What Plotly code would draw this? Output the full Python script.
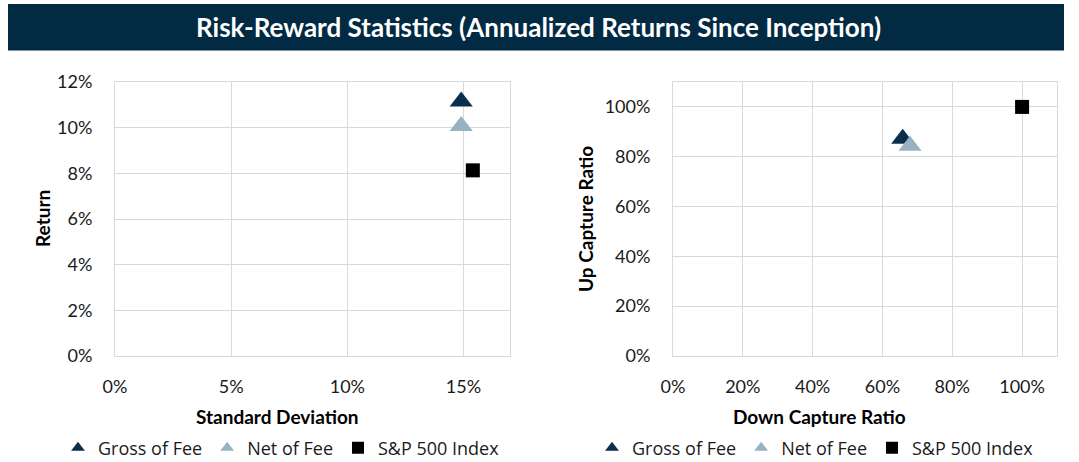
import plotly.graph_objects as go

# ---- data ----
series_names = ["Gross of Fee", "Net of Fee", "S&P 500 Index"]
series_colors = ["#0b2f4b", "#97b3c3", "#000000"]
series_symbols = ["triangle-up", "triangle-up", "square"]
series_sizes = [20, 20, 14]

std_dev = [0.149, 0.149, 0.154]          # Standard Deviation
annual_return = [0.1115, 0.1007, 0.0813]  # Return

down_capture = [0.658, 0.679, 1.00]       # Down Capture Ratio
up_capture = [0.872, 0.844, 1.00]         # Up Capture Ratio

W, H = 1079, 462
TICK_FONT = dict(family="Lato", size=18, color="#1a1a1a")
TITLE_FONT = dict(family="Lato", size=19, color="#000000", weight="bold")
GRID = "#d9d9d9"

fig = go.Figure()

for i, name in enumerate(series_names):
    fig.add_trace(go.Scatter(
        x=[std_dev[i]], y=[annual_return[i]], mode="markers", name=name,
        marker=dict(symbol=series_symbols[i], size=series_sizes[i], color=series_colors[i], line=dict(width=0)),
        xaxis="x", yaxis="y", legend="legend", cliponaxis=False,
    ))
for i, name in enumerate(series_names):
    fig.add_trace(go.Scatter(
        x=[down_capture[i]], y=[up_capture[i]], mode="markers", name=name,
        marker=dict(symbol=series_symbols[i], size=series_sizes[i], color=series_colors[i], line=dict(width=0)),
        xaxis="x2", yaxis="y2", legend="legend2", cliponaxis=False,
    ))

def px_x(p):
    return p / W

def px_y(p):
    return 1 - p / H

axis_common = dict(showgrid=True, gridcolor=GRID, gridwidth=1, showline=True, linecolor=GRID,
                   linewidth=1, mirror=True, zeroline=False, ticks="", tickfont=TICK_FONT,
                   fixedrange=True, automargin=False)

legend_common = dict(orientation="h", yanchor="middle", xanchor="left", y=px_y(448),
                     font=dict(family="Open Sans", size=18, color="#1a1a1a"),
                     itemsizing="constant", bgcolor="rgba(0,0,0,0)", itemclick=False)

fig.update_layout(
    width=W, height=H,
    margin=dict(l=0, r=0, t=0, b=0, autoexpand=False),
    paper_bgcolor="white", plot_bgcolor="white",
    xaxis=dict(domain=[px_x(115), px_x(510)], range=[0, 0.17], dtick=0.05, tick0=0,
               tickformat=".0%", anchor="y", ticklabelstandoff=14, **axis_common),
    yaxis=dict(domain=[px_y(356), px_y(82)], range=[0, 0.12], dtick=0.02, tick0=0,
               tickformat=".0%", anchor="x", ticklabelstandoff=18, **axis_common),
    xaxis2=dict(domain=[px_x(673), px_x(1057)], range=[0, 1.1], dtick=0.2, tick0=0,
                tickformat=".0%", anchor="y2", ticklabelstandoff=14, **axis_common),
    yaxis2=dict(domain=[px_y(356), px_y(82)], range=[0, 1.1], dtick=0.2, tick0=0,
                tickformat=".0%", anchor="x2", ticklabelstandoff=18, **axis_common),
    legend=dict(x=px_x(58), **legend_common),
    legend2=dict(x=px_x(592), **legend_common),
    shapes=[dict(type="rect", xref="paper", yref="paper", x0=px_x(8), x1=px_x(1064),
                 y0=px_y(50.5), y1=px_y(4), fillcolor="#022a43", line=dict(width=0), layer="below")],
    annotations=[
        dict(text="Risk-Reward Statistics (Annualized Returns Since Inception)", xref="paper", yref="paper",
             x=px_x(538), y=px_y(27), showarrow=False, xanchor="center", yanchor="middle",
             font=dict(family="Lato", size=26, color="#ffffff", weight="bold")),
        dict(text="Return", xref="paper", yref="paper", x=px_x(42), y=px_y(219), textangle=-90,
             showarrow=False, xanchor="center", yanchor="middle", font=TITLE_FONT),
        dict(text="Standard Deviation", xref="paper", yref="paper", x=px_x(277), y=px_y(416),
             showarrow=False, xanchor="center", yanchor="middle", font=TITLE_FONT),
        dict(text="Up Capture Ratio", xref="paper", yref="paper", x=px_x(585), y=px_y(219), textangle=-90,
             showarrow=False, xanchor="center", yanchor="middle", font=TITLE_FONT),
        dict(text="Down Capture Ratio", xref="paper", yref="paper", x=px_x(819), y=px_y(416),
             showarrow=False, xanchor="center", yanchor="middle", font=TITLE_FONT),
    ],
)

fig.write_html(
    "out.html",
    config={"displayModeBar": False},
    post_script="document.body.style.margin='0';document.body.style.padding='0';"
                "document.documentElement.style.overflow='hidden';",
)
